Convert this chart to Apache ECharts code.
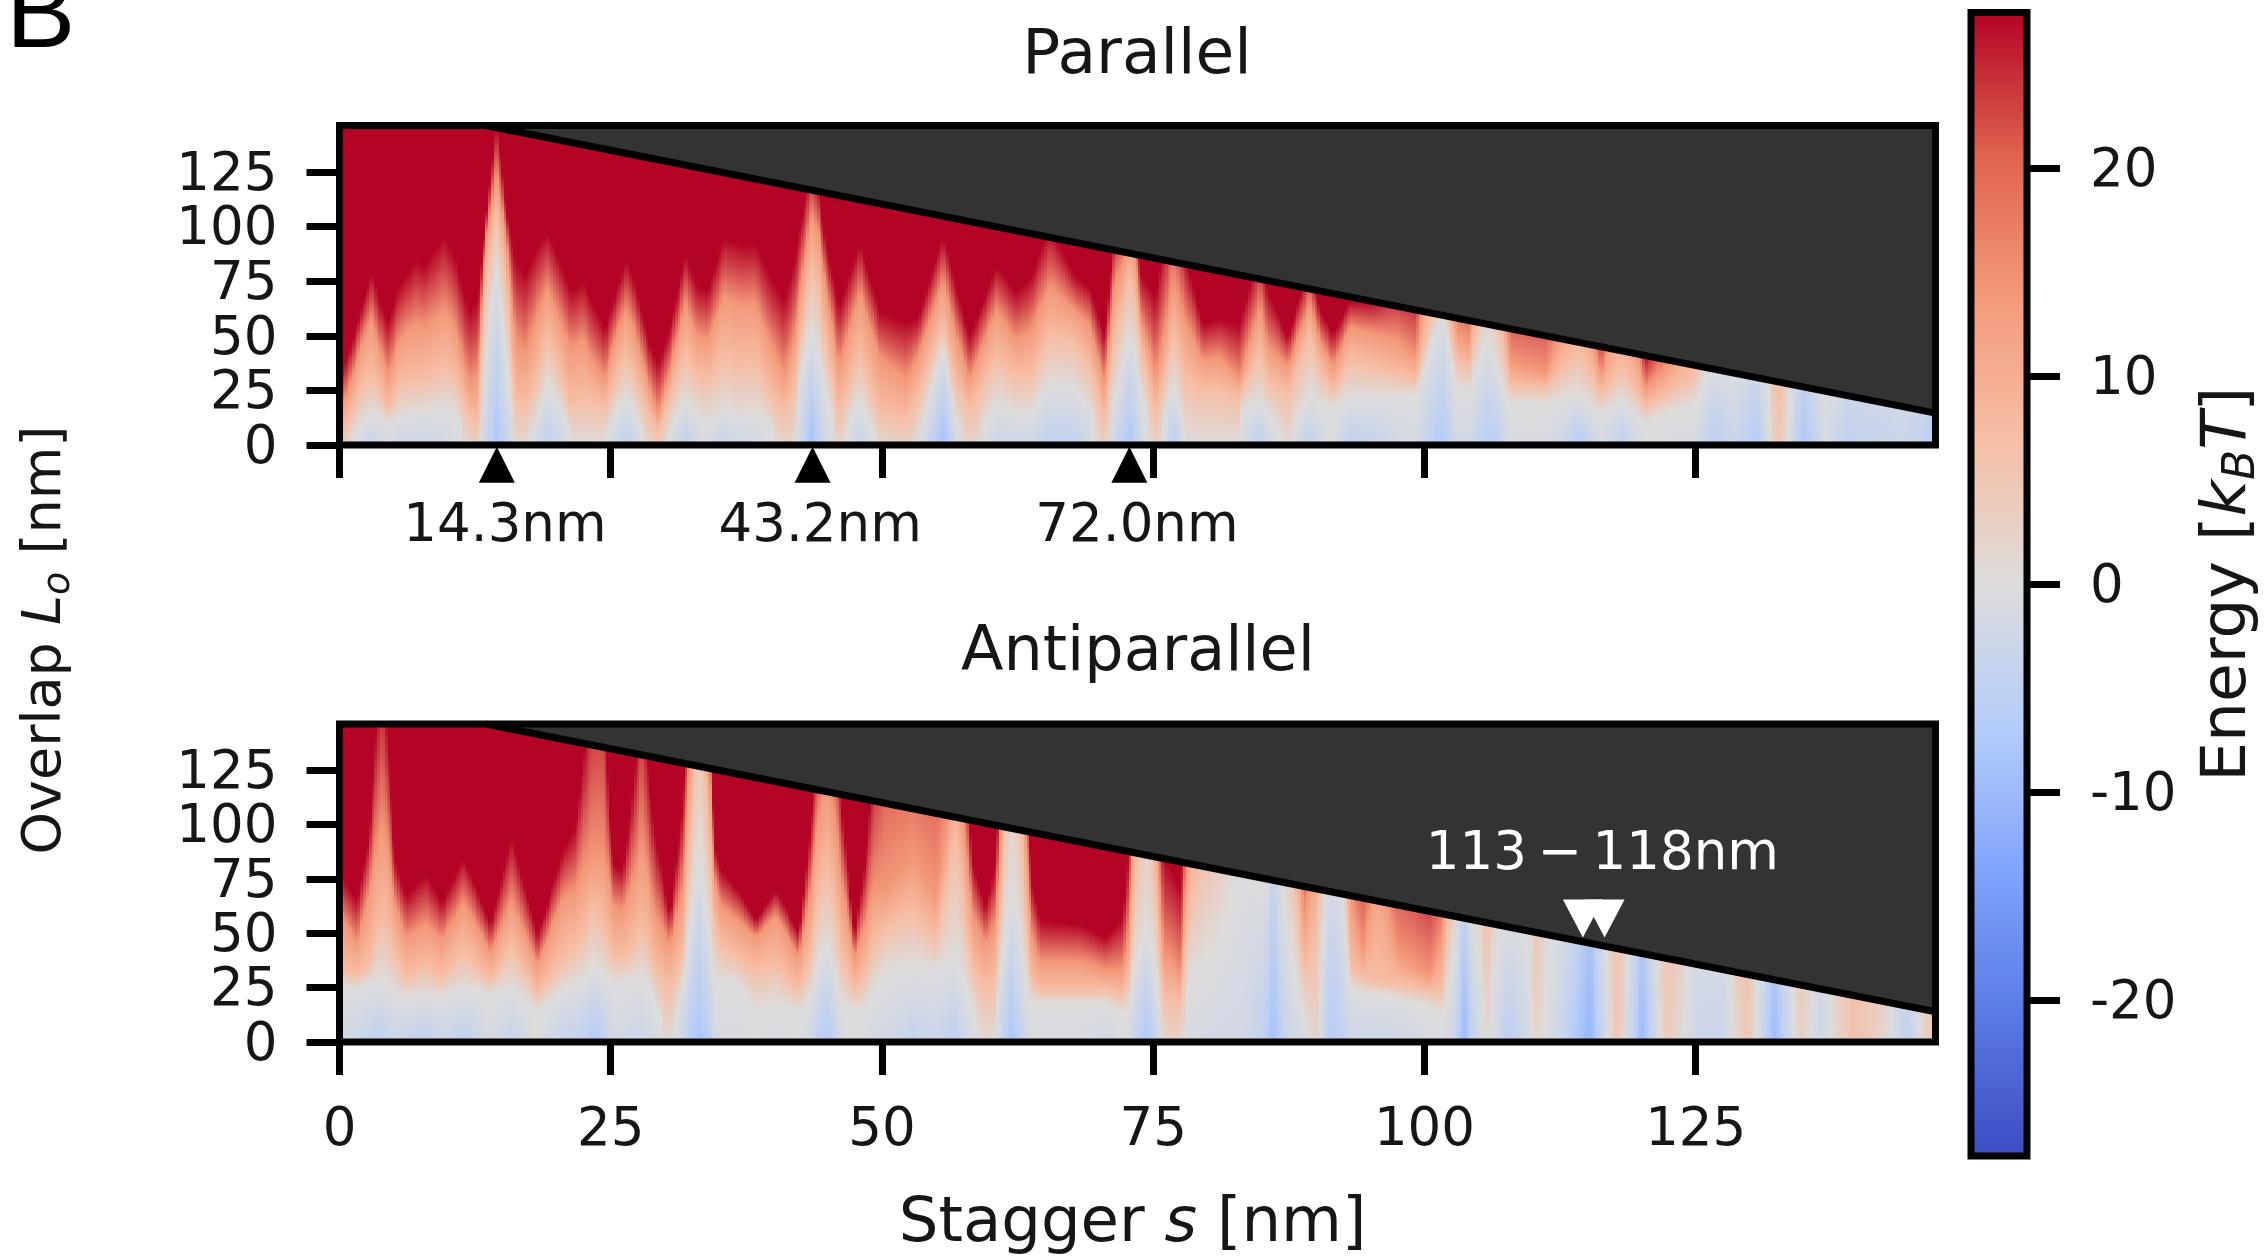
<!DOCTYPE html>
<html><head><meta charset="utf-8">
<style>html,body{margin:0;padding:0;background:#fff}#c{width:2264px;height:1256px}</style>
<script src="https://cdn.jsdelivr.net/npm/echarts@6/dist/echarts.min.js"></script>
</head><body><div id="c"></div>
<script>
// Each row is one column of the energy map:
// [stagger s, energy at L=0, height L where energy reaches 0, 7, 14, 27.5 kBT]
const parallelRows = [
[0,5,0,5,14,29],[1.2,0,2,16,30,47],[2.2,-2,10,28,48,65],[3,-4,14,32,58,80],[3.7,-2,13,26,44,66],[4.6,-1,9,16,32,56],
[5.5,-3,12,28,48,73],[6.3,-3,14,30,52,78],[7.1,-3,15,30,55,85],[7.85,-3,15,30,54,82],[9.7,-2,17,36,62,96],[10.6,-1,15,32,55,87],
[12,1,0,14,28,61],[12.8,3,0,10,32,67],[13.5,-3,35,75,92,101],[14.5,-8,85,108,125,150],[15.4,-4,40,75,95,108],[16.3,1,0,20,48,84],
[17.2,1,0,18,42,78],[18.2,-2,10,30,58,90],[19.2,-5,28,50,72,98],[20.3,-3,18,36,58,85],[21.4,0,5,18,44,70],[22.5,0,5,22,48,75],
[23.4,0,4,20,38,65],[24.5,0,3,18,30,53],[25.5,-3,14,30,50,69],[26.5,-5,22,42,62,85.5],[27.5,-2,12,28,48,70],[28.5,2,0,15,28,48],
[29.4,5,0,6,14,36.6],[30.5,-1,6,22,34,53],[31.9,-5,20,42,65,88],[33,-2,14,32,50,73],[34,-1,9,30,48,71],[35.5,-4,16,40,68,95],
[36.9,-2,12,36,64,92],[38.4,-2,14,38,64,92],[40,0,8,22,44,75],[41.05,2,0,16,32,66],[42,1,0,28,50,85],[42.6,-3,35,52,75,102],[43.5,-9,52,82,105,130],
[44.3,-5,40,70,95,115],[44.6,-3,30,55,80,100],[46.1,2,0,15,36,62.6],[48,-4,20,42,70,93],[49.8,1,0,15,40,61],[52.3,3,0,12,30,56],[53.5,0,4,24,42,59],
[55.7,-9,44,56,75,96],[56.9,-2,10,28,50,72],[58.1,3,0,16,30,49],[60.6,-3,18,40,62,82],[62.4,-3,14,32,48,70],[63.7,-3,14,32,52,76],
[65.5,-5,28,50,72,100],[67.7,-5,26,48,62,78],[69.2,-2,16,36,55,72],[70.6,3,0,12,28,50],[71.5,-3,20,50,75,100],[72.1,-5,35,60,80,105],[72.9,-8,50,78,95,125],
[73.5,-5,40,65,85,110],[73.8,-3,25,48,60,79],[75.3,3,0,14,32,68],[76.9,-6,27,51,74,125],[78.1,0,4,30,55,85],[79.6,0,17,25,39,55],[81.2,0,17,25,40,58],
[83,0,15,22,30,55],[84.9,-6,20,43,63,90],[85.6,-2,14,30,45,70],[87.5,1,0,24,36,49],[89.5,-5,24,51,65,85],[90.4,-2,18,36,48,62],
[91.6,0,17,25,36,51],[93.2,-5,22,39,54,66],[95.3,-4,22,36,51,66],[97.5,-2,22,33,48,75],[99.3,-1,22,30,40,72],[100.9,-6,50,65,110,170],
[101.8,-7,60,75,120,170],[103,-2,26,39,52,90],[104.2,-2,24,36,48,80],[105.8,-6,50,80,150,200],[106.7,-6,35,65,120,200],[107.9,-1,18,28,39,80],
[109.5,-1,20,27,36,80],[111.3,-1,18,27,33,80],[113,-3,22,36,60,120],[114.3,-7,22,43,80,150],[116.3,-1,14,24,32,50],[118.3,-5,20,36,70,150],
[120.4,0,10,18,26,40],[122.7,-1,15,25,38,70],[124.9,-1,18,32,70,150],[126.7,-6,40,70,150,200],[128.6,-3,40,80,150,200],[130.7,-7,60,100,150,200],
[132.7,5,0,30,60,150],[135,-8,80,150,200,250],[137,-1,30,100,150,200],[139,-5,50,100,150,200],[141.8,-4,50,100,150,200],[144.5,-3,50,100,150,200],
[146.7,-6,60,100,150,200],[147.1,-6,60,100,150,200]
];
const antiparallelRows = [
[0,-3,26,33,60,78],[1.7,-3,24,31,45,65],[2.8,-4,27,36,68,94],[3.5,-5,27,50,90,150],[4,-5,27,58,100,170],[4.5,-4,27,52,90,140],
[5.1,-3,22,42,65,85],[6.2,-4,20,30,48,67],[8,-5,22,35,54,77],[9.5,-3,20,30,47,64],[11.5,-5,25,42,64,85],[14,-1,22,28,41,54],
[15.9,-4,25,45,65,96],[18.3,0,14,22,35,48],[20.6,-4,24,38,66,88],[21.8,-4,26,45,70,99],[22.5,-5,28,50,80,130],[23.4,-7,35,62,85,170],
[24.4,-5,30,55,85,170],[24.9,-3,28,45,75,110],[25.3,-2,27,40,62,82],[26.2,-2,27,39,61,79],[27.2,-3,28,45,75,120],[27.9,-3,30,53,90,170],
[28.6,-2,26,45,75,120],[29,-1,20,36,60,100],[30.5,1,0,25,45,58],[31.7,-3,25,40,70,110],[32.3,-6,50,85,130,170],[33.2,-8,85,170,200,230],
[34.1,-6,50,90,130,170],[34.6,-2,30,55,75,90],[35.2,-1,28,45,62,79],[36.8,-1,27,39,56,70],[38.4,0,14,33,48,56],[40.3,-1,18,36,58,70],
[42.4,0,14,24,39,50],[43.5,-2,20,40,70,100],[44.1,-5,35,65,100,140],[45,-7,45,80,120,190],[45.8,-4,30,60,100,150],[46.3,-1,18,40,75,110],
[47.5,0,14,24,38,48],[48.6,-1,16,32,55,85],[49.2,-2,22,45,70,130],[50.4,-2,33,53,70,190],[52.9,-4,35,60,85,190],[55,-3,33,48,67,190],
[56.9,-5,39,95,130,190],[57.8,-2,25,55,90,130],[58.3,-1,18,35,60,85],[59.6,1,0,25,45,61],[60.6,0,12,30,55,85],[61.1,-4,40,70,110,150],
[62,-8,70,170,200,230],[62.9,-4,45,100,150,200],[63.4,-2,25,50,90,130],[63.8,-1,18,30,50,75],[64.6,-1,18,24,37,56],[68.3,-1,18,24,37,54],
[70.7,-2,18,24,33,48],[72.3,0,12,22,33,58],[72.8,-1,14,30,50,90],[73.4,-4,35,70,130,170],[74.4,-8,50,150,200,230],[75.4,-3,30,60,100,140],
[76,1,0,20,40,85],[76.7,3,0,21,38,80],[77.6,1,0,18,30,70],[78.3,-1,30,60,100,150],[80.9,-2,40,120,170,230],[83.4,-2,90,170,230,300],
[85.3,-5,70,150,200,250],[86.1,-9,120,200,250,300],[87.4,-3,50,120,200,250],[88.9,-1,12,33,55,100],[90.1,2,0,50,100,150],[91.3,-7,100,170,230,300],
[92.4,-5,70,150,200,250],[93.2,-3,25,35,70,120],[94.4,-3,22,30,40,110],[95.7,-3,22,28,90,120],[97.5,-3,20,27,42,110],[100.6,-1,16,24,30,85],
[101.7,-1,12,24,50,100],[102.6,-2,30,80,150,200],[103.7,-10,100,170,230,300],[104.6,-4,60,150,200,250],[105.8,1,0,60,120,200],[106.8,-2,50,120,200,250],
[107.7,-6,60,150,200,250],[109.8,-1,60,150,200,250],[110.1,2,0,100,150,200],[112.6,-3,80,150,200,250],[115.3,-11,150,200,250,300],[117.8,5,0,100,150,200],
[120.1,-10,150,200,250,300],[122.4,4,0,100,150,200],[125.2,-3,80,150,200,250],[127.6,-3,80,150,200,250],[129.8,5,0,100,150,200],[132.3,-10,150,200,250,300],
[134.7,3,0,100,150,200],[136.6,-3,80,150,200,250],[139.5,6,0,100,150,200],[141.8,3,0,100,150,200],[144.6,-5,100,150,200,250],[146.6,4,0,100,150,200],[147.1,4,0,100,150,200]
];
const contourLevels = [0, 7, 14, 27.5];
const xTicks = [0, 25, 50, 75, 100, 125];
const yTicks = [0, 25, 50, 75, 100, 125];
const colorbarTicks = [-20, -10, 0, 10, 20];
const sMax = 147.1, lMax = 146.3, eMax = 27.5;
const upperDiagonal = [[13.5, 146.3], [147.1, 14.6]];
const lowerDiagonal = [[13.5, 146.3], [147.1, 13.9]];
const peakMarks = [[14.5, -9], [43.6, -9], [72.8, -9]];
const peakLabels = [[15.25, -37.5, '14.3nm'], [44.3, -37.5, '43.2nm'], [73.5, -37.5, '72.0nm']];
const rangeMarks = [[114.6, 56.8], [116.6, 56.8]];
const rangeLabel = [[116.4, 86, '113\u2009\u2212\u2009118nm']];
const coolwarm = ['#3b4cc0','#5b7ae5','#81a4fb','#b5cdfa','#dddcdc','#f6bfa6','#f49a7b','#df634e','#b40426'];

const FONT = '"DejaVu Sans"', INK = '#161616';

function hex(c){return [1,3,5].map(i=>parseInt(c.substr(i,2),16));}
function energyColor(v){
  const t = Math.max(0, Math.min(1, (v + eMax) / (2 * eMax))) * (coolwarm.length - 1);
  const i = Math.min(coolwarm.length - 2, Math.floor(t)), f = t - i;
  const a = hex(coolwarm[i]), b = hex(coolwarm[i + 1]);
  return 'rgb(' + a.map((x, k) => Math.round(x + (b[k] - x) * f)).join(',') + ')';
}
function columnGradient(r){
  const pts = [[0, r[1]]];
  contourLevels.forEach((lev, k) => {
    const h = r[2 + k], last = pts[pts.length - 1];
    if (lev > last[1] && h > last[0]) pts.push([h, lev]);
  });
  const stops = [];
  for (let i = 0; i < pts.length; i++) {
    if (pts[i][0] >= lMax) {
      const p = pts[i - 1], q = pts[i];
      const v = p[1] + (q[1] - p[1]) * (lMax - p[0]) / (q[0] - p[0]);
      stops.push({offset: 1, color: energyColor(v)});
      break;
    }
    stops.push({offset: pts[i][0] / lMax, color: energyColor(pts[i][1])});
  }
  if (stops[stops.length - 1].offset < 1) stops.push({offset: 1, color: stops[stops.length - 1].color});
  return new echarts.graphic.LinearGradient(0, 1, 0, 0, stops);
}
function heatSeries(rows, axis){
  return {
    type: 'custom', xAxisIndex: axis, yAxisIndex: axis, z: 2, silent: true,
    data: rows, encode: {x: 0, y: 2},
    renderItem(params, api){
      const a = rows[params.dataIndex], b = rows[params.dataIndex + 1];
      if (!b) return null;
      const x0 = api.coord([a[0], 0])[0], x1 = api.coord([b[0], 0])[0];
      const yb = api.coord([0, 0])[1], yt = api.coord([0, lMax])[1];
      const n = Math.max(1, Math.ceil((x1 - x0) / 3)), children = [];
      for (let j = 0; j < n; j++) {
        const t = (j + 0.5) / n, r = a.map((v, k) => v + (b[k] - v) * t);
        const xa = Math.floor(x0 + (x1 - x0) * j / n), xb = Math.ceil(x0 + (x1 - x0) * (j + 1) / n);
        children.push({type: 'rect', silent: true,
          shape: {x: xa, y: yt, width: xb - xa, height: yb - yt},
          style: {fill: columnGradient(r)}});
      }
      return {type: 'group', children};
    }
  };
}
function darkSeries(diag, axis){
  return {
    type: 'custom', xAxisIndex: axis, yAxisIndex: axis, z: 3, silent: true,
    data: [[diag[0][0], diag[0][1], diag[1][0], diag[1][1]]], encode: {x: [0, 2], y: [1, 3]},
    renderItem(params, api){
      const A = [api.value(0), api.value(1)], B = [api.value(2), api.value(3)];
      return {type: 'polygon', silent: true,
        shape: {points: [api.coord(A), api.coord(B), api.coord([B[0], A[1]])]},
        style: {fill: '#333333'}};
    }
  };
}
function lineSeries(diag, axis){
  return {type: 'line', xAxisIndex: axis, yAxisIndex: axis, z: 4, silent: true, data: diag,
    showSymbol: false, lineStyle: {color: '#000', width: 7}};
}
function xAxisOf(idx, labelled){
  const o = {gridIndex: idx, type: 'value', min: 0, max: sMax, splitLine: {show: false}, axisLine: {show: false},
    axisTick: {customValues: xTicks, length: 33, lineStyle: {color: '#000', width: 7}},
    axisLabel: {show: labelled, customValues: xTicks, margin: 63, fontFamily: FONT, fontSize: 53, color: INK}};
  if (labelled) {
    o.name = '{n|Stagger }{i|s}{n| [nm]}';
    o.nameLocation = 'middle'; o.nameGap = 151;
    o.nameTextStyle = {padding: [0, 10, 0, 0], rich: {n: {fontFamily: FONT, fontSize: 62.5, color: INK}, i: {fontFamily: FONT, fontStyle: 'italic', fontSize: 62.5, color: INK}}};
  }
  return o;
}
const shiftedLabel = {formatter: '{a|{value}}', rich: {a: {fontFamily: FONT, fontSize: 53, color: INK, padding: [8, 0, 0, 0]}}};
function yAxisOf(idx){
  return {gridIndex: idx, type: 'value', min: 0, max: lMax, splitLine: {show: false}, axisLine: {show: false},
    axisTick: {customValues: yTicks, length: 33, lineStyle: {color: '#000', width: 7}},
    axisLabel: Object.assign({customValues: yTicks, margin: 62}, shiftedLabel)};
}
const frame = {show: true, z: 10, backgroundColor: 'transparent', borderColor: '#000', borderWidth: 7, outerBoundsMode: 'none', containLabel: false};
const cbStops = coolwarm.map((c, i) => ({offset: i / (coolwarm.length - 1), color: c}));

const option = {
  animation: false, backgroundColor: '#fff',
  title: [
    {text: 'Parallel', left: 1132, top: 20, textAlign: 'center', textStyle: {fontFamily: FONT, fontSize: 63, fontWeight: 'normal', color: INK}},
    {text: 'Antiparallel', left: 1133, top: 618, textAlign: 'center', textStyle: {fontFamily: FONT, fontSize: 62, fontWeight: 'normal', color: INK}}
  ],
  grid: [
    Object.assign({left: 339.5, top: 125.5, width: 1596, height: 319.5}, frame),
    Object.assign({left: 339.5, top: 724, width: 1596, height: 318}, frame),
    Object.assign({left: 1971, top: 12.5, width: 56, height: 1143.5}, frame)
  ],
  xAxis: [xAxisOf(0, false), xAxisOf(1, true),
    {gridIndex: 2, type: 'value', min: 0, max: 1, show: false}],
  yAxis: [yAxisOf(0), yAxisOf(1),
    {gridIndex: 2, type: 'value', min: -eMax, max: eMax, position: 'right', z: 11, splitLine: {show: false}, axisLine: {show: false, onZero: false},
     axisTick: {show: true, customValues: colorbarTicks, length: 33, lineStyle: {color: '#000', width: 7}},
     axisLabel: Object.assign({customValues: colorbarTicks, margin: 63}, shiftedLabel),
     name: '{n|Energy [}{i|k}{s|B}{i|T}{n|]}', nameLocation: 'middle', nameRotate: 90, nameGap: 166,
     nameTextStyle: {rich: {
       n: {fontFamily: FONT, fontSize: 63, lineHeight: 72, color: INK},
       i: {fontFamily: FONT, fontStyle: 'italic', fontSize: 63, lineHeight: 72, color: INK},
       s: {fontFamily: FONT, fontStyle: 'italic', fontSize: 44, lineHeight: 38, verticalAlign: 'bottom', color: INK}}}}],
  graphic: [
    {type: 'text', left: 6, top: -34, silent: true, style: {text: 'B', font: '104px "Liberation Sans"', fill: '#000'}},
    {type: 'text', x: 46, y: 640, rotation: Math.PI / 2, silent: true,
     style: {text: '{n|Overlap }{i|L}{s|o}{n| [nm]}', align: 'center', verticalAlign: 'middle', rich: {
       n: {fontFamily: FONT, fontSize: 54, lineHeight: 64, fill: INK},
       i: {fontFamily: FONT, fontStyle: 'italic', fontSize: 54, lineHeight: 64, fill: INK},
       s: {fontFamily: FONT, fontStyle: 'italic', fontSize: 38, lineHeight: 34, verticalAlign: 'bottom', fill: INK}}}}
  ],
  series: [
    heatSeries(parallelRows, 0), darkSeries(upperDiagonal, 0), lineSeries(upperDiagonal, 0),
    heatSeries(antiparallelRows, 1), darkSeries(lowerDiagonal, 1), lineSeries(lowerDiagonal, 1),
    {type: 'scatter', xAxisIndex: 0, yAxisIndex: 0, clip: false, z: 12, silent: true, data: peakMarks,
     symbol: 'triangle', symbolSize: [36, 36], itemStyle: {color: '#000', opacity: 1}},
    {type: 'scatter', xAxisIndex: 0, yAxisIndex: 0, clip: false, z: 12, silent: true, data: peakLabels, symbolSize: 1,
     itemStyle: {color: 'transparent', opacity: 1},
     label: {show: true, position: 'inside', formatter: p => p.value[2], fontFamily: FONT, fontSize: 53, color: INK}},
    {type: 'scatter', xAxisIndex: 1, yAxisIndex: 1, clip: false, z: 12, silent: true, data: rangeMarks,
     symbol: 'triangle', symbolRotate: 180, symbolSize: [40, 38], itemStyle: {color: '#fff', opacity: 1}},
    {type: 'scatter', xAxisIndex: 1, yAxisIndex: 1, clip: false, z: 12, silent: true, data: rangeLabel, symbolSize: 1,
     itemStyle: {color: 'transparent', opacity: 1},
     label: {show: true, position: 'inside', formatter: p => p.value[2], fontFamily: FONT, fontSize: 53, color: '#fff'}},
    {type: 'custom', xAxisIndex: 2, yAxisIndex: 2, z: 2, silent: true, data: [[0, -eMax, 1, eMax]], encode: {x: [0, 2], y: [1, 3]},
     renderItem(params, api){
       const a = api.coord([0, eMax]), b = api.coord([1, -eMax]);
       return {type: 'rect', silent: true, shape: {x: a[0], y: a[1], width: b[0] - a[0], height: b[1] - a[1]},
         style: {fill: new echarts.graphic.LinearGradient(0, 1, 0, 0, cbStops)}};
     }}
  ]
};
echarts.init(document.getElementById('c'), null, {renderer: 'canvas'}).setOption(option);
</script></body></html>
